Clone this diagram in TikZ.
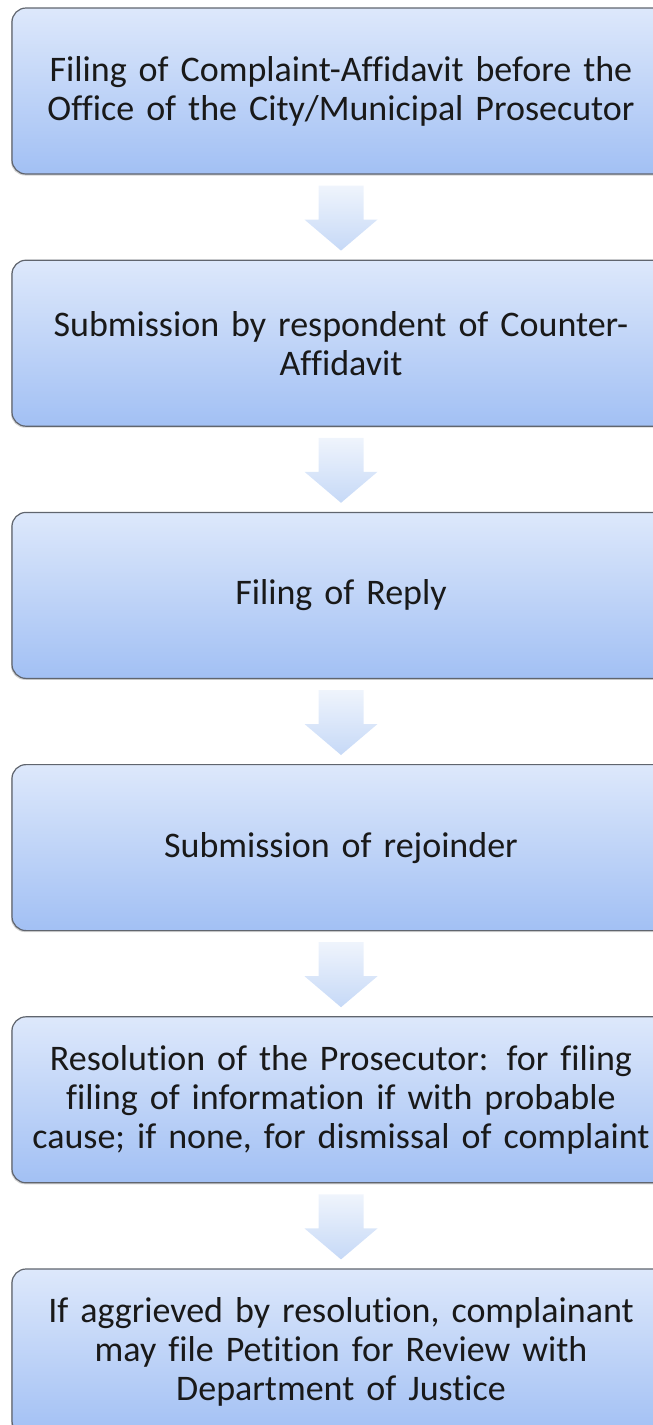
\documentclass[tikz,border=0pt]{standalone}
\usepackage{fontspec}
\setmainfont{Carlito}[Ligatures=NoCommon]
\usetikzlibrary{positioning,calc,shadows}
\definecolor{boxtop}{HTML}{DDE8FB}
\definecolor{boxbot}{HTML}{A2C0F4}
\definecolor{boxline}{HTML}{60656E}
\definecolor{arrtop}{HTML}{EFF4FC}
\definecolor{arrbot}{HTML}{C6D9F7}
\begin{document}
\begin{tikzpicture}[x=1pt,y=1pt,
		stepbox/.style={draw=boxline, line width=1.2pt, rounded corners=14pt,
			top color=boxtop, bottom color=boxbot,
			minimum width=658pt, minimum height=166pt, text width=650pt, align=center,
			font=\fontsize{36}{39}\selectfont, text=black!90,
			drop shadow={shadow xshift=-1pt,shadow yshift=-1.5pt,opacity=0.35}},
		node distance=85pt]
\useasboundingbox (0,0) rectangle (653,-1425);

\node[stepbox] (s1) at (341,-91) {Filing of Complaint-Affidavit before the\\Office of the City/Municipal Prosecutor};
\node[stepbox, below=of s1] (s2) {Submission by respondent of Counter-\\Affidavit};
\node[stepbox, below=of s2] (s3) {Filing of Reply};
\node[stepbox, below=of s3] (s4) {Submission of rejoinder};
\node[stepbox, below=of s4] (s5) {Resolution of the Prosecutor: for filing\\filing of information if with probable\\cause; if none, for dismissal of complaint};
\node[stepbox, below=of s5] (s6) {If aggrieved by resolution, complainant\\may file Petition for Review with\\Department of Justice};

\foreach \a/\b in {s1/s2,s2/s3,s3/s4,s4/s5,s5/s6}
	\shade[top color=arrtop, bottom color=arrbot]
		($(\a.south)+(-22.5,-11)$) -- ($(\a.south)+(22.5,-11)$)
		-- ($(\b.north)+(22.5,40)$) -- ($(\b.north)+(36.5,40)$)
		-- ($(\b.north)+(0,9)$)
		-- ($(\b.north)+(-36.5,40)$) -- ($(\b.north)+(-22.5,40)$) -- cycle;
\end{tikzpicture}
\end{document}
